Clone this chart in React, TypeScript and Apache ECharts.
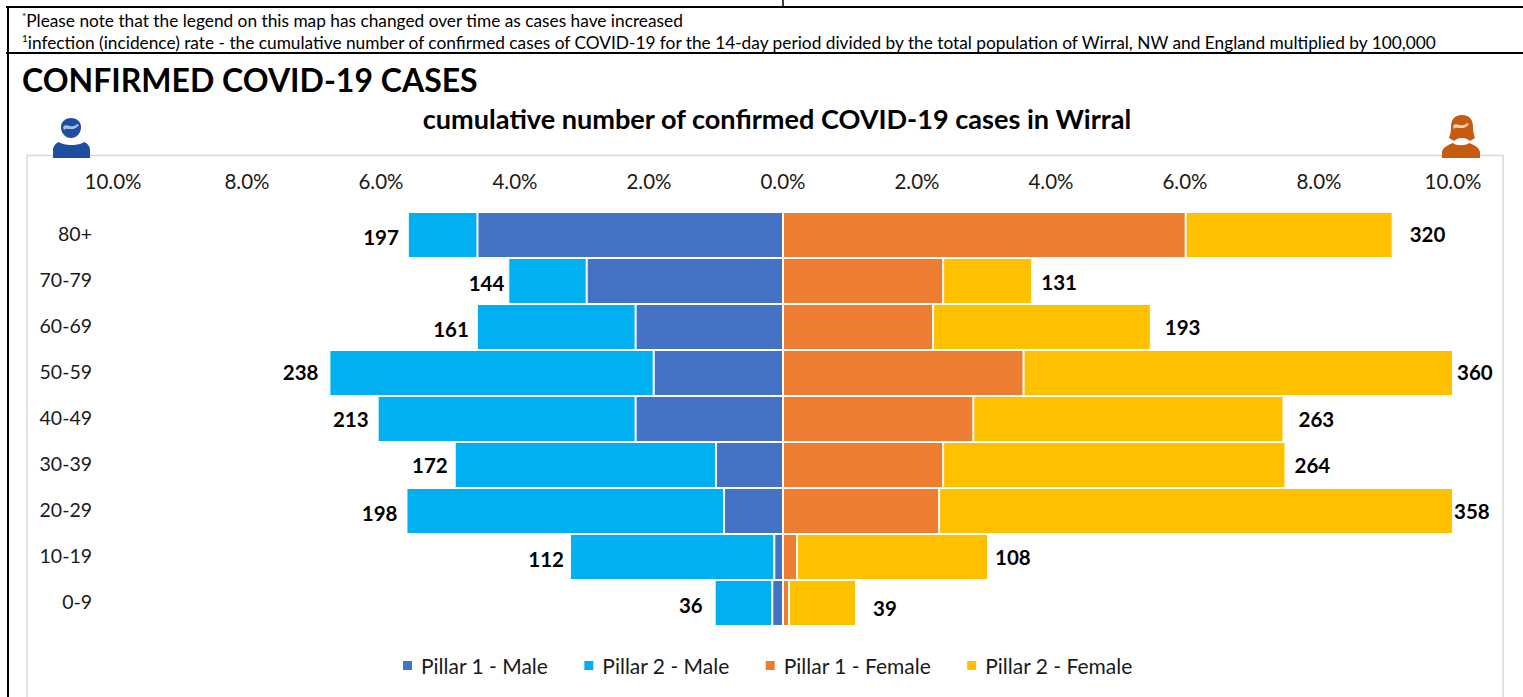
import React, { useEffect, useRef } from "react";
import * as echarts from "echarts";

const ageBands = ["80+", "70-79", "60-69", "50-59", "40-49", "30-39", "20-29", "10-19", "0-9"];
const pillar1Male = [4.56, 2.93, 2.2, 1.93, 2.2, 1.0, 0.88, 0.13, 0.16];
const pillar2Male = [1.04, 1.17, 2.37, 4.84, 3.85, 3.9, 4.74, 3.05, 0.86];
const pillar1Female = [6.01, 2.39, 2.24, 3.59, 2.84, 2.39, 2.33, 0.21, 0.09];
const pillar2Female = [3.09, 1.33, 3.25, 6.41, 4.63, 5.11, 7.67, 2.85, 1.0];
const maleCounts = [197, 144, 161, 238, 213, 172, 198, 112, 36];
const femaleCounts = [320, 131, 193, 360, 263, 264, 358, 108, 39];

// label placement, separate from the data
const maleGap = [9, 4, 8, 11, 9, 7, 9, 6, 12];
const maleDrop = [3, 3, 3, 0, 1, 1, 3, 3, 3];
const femaleGap = [17, 9, 14, 4, 15, 9, 1, 7, 17];
const femaleDrop = [0, 2, 1, 0, 1, 1, 1, 1, 6];

const FONT = "Lato";
const BLACK = "#000";
const LABEL = "#1a1a1a";
const FRAME = "#d9d9d9";

const MALE_BODY = "M6 0C3 1 1 3 0 7L0 16L37 16L37 7C36 3 34 1 31 0C27 4 10 4 6 0Z";
const MALE_HEAD = "M10 0C4 0 0 4 0 9C0 15 4 20 10 20C16 20 20 15 20 9C20 4 16 0 10 0Z";
const FEMALE_BODY = "M11 0C6 2 1 4 0 9L0 15L38 15L38 9C37 4 32 2 27 0C24 3 14 3 11 0Z";
const FEMALE_HEAD =
  "M13 0C5 0 2 5 2 12C2 17 1 20 0 23L5 26C8 24 9 23 13 23C17 23 18 24 21 26L26 23C25 20 24 17 24 12C24 5 21 0 13 0Z";
const SWOOSH = "M0 5C4 0 8 8 14 2L16 3C10 11 4 4 1 8Z";
echarts.graphic.registerShape("maleBody", echarts.graphic.extendPath(MALE_BODY, {}) as any);
echarts.graphic.registerShape("maleHead", echarts.graphic.extendPath(MALE_HEAD, {}) as any);
echarts.graphic.registerShape("femaleBody", echarts.graphic.extendPath(FEMALE_BODY, {}) as any);
echarts.graphic.registerShape("femaleHead", echarts.graphic.extendPath(FEMALE_HEAD, {}) as any);
echarts.graphic.registerShape("swoosh", echarts.graphic.extendPath(SWOOSH, {}) as any);

function hline(x1: number, x2: number, y: number, w: number, c = BLACK) {
  return { type: "line", silent: true, shape: { x1, y1: y, x2, y2: y }, style: { stroke: c, lineWidth: w } };
}
function vline(x: number, y1: number, y2: number, w: number, c = BLACK) {
  return { type: "line", silent: true, shape: { x1: x, y1, x2: x, y2 }, style: { stroke: c, lineWidth: w } };
}
const supRich = {
  s: { fontFamily: FONT, fontSize: 10, verticalAlign: "top", fill: BLACK, lineHeight: 18 },
  n: { fontFamily: FONT, fontSize: 17.3, fill: BLACK, lineHeight: 18 },
};

export default function App() {
  const ref = useRef<HTMLDivElement>(null);
  useEffect(() => {
    const chart = echarts.init(ref.current!, null, { renderer: "svg" });
    const barBase = { type: "bar", stack: "total", barWidth: 46, barGap: "0%" };
    const countLabel = { color: BLACK, fontFamily: FONT, fontWeight: "bold", fontSize: 20.5 };
    chart.setOption({
      animation: false,
      backgroundColor: "#fff",
      textStyle: { fontFamily: FONT },
      grid: { left: 113, right: 70, top: 212, height: 414 },
      xAxis: {
        type: "value",
        position: "top",
        min: -10,
        max: 10,
        interval: 2,
        axisLine: { show: false },
        axisTick: { show: false },
        splitLine: { show: false },
        axisLabel: {
          color: LABEL,
          fontFamily: FONT,
          fontSize: 20.5,
          margin: 21,
          formatter: (v: number) => Math.abs(v).toFixed(1) + "%",
        },
      },
      yAxis: {
        type: "category",
        inverse: true,
        data: ageBands,
        axisLine: { show: false },
        axisTick: { show: false },
        axisLabel: {
          color: LABEL,
          fontFamily: FONT,
          fontSize: 19.5,
          margin: 21,
          align: "right",
          formatter: (v: string) => "{a|" + v + "}",
          rich: { a: { fontFamily: FONT, fontSize: 19.5, color: LABEL, padding: [0, 0, 4, 0] } },
        },
      },
      legend: {
        left: 401,
        top: 655,
        padding: 0,
        itemWidth: 11,
        itemHeight: 11,
        itemGap: 34,
        icon: "rect",
        textStyle: { color: LABEL, fontFamily: FONT, fontSize: 21, padding: [0, 0, 0, 3] },
        data: ["Pillar 1 - Male", "Pillar 2 - Male", "Pillar 1 - Female", "Pillar 2 - Female"],
      },
      series: [
        {
          ...barBase,
          name: "Pillar 1 - Male",
          itemStyle: { color: "#4472C4", borderColor: "#fff", borderWidth: 1 },
          data: pillar1Male.map((v) => -v),
        },
        {
          ...barBase,
          name: "Pillar 2 - Male",
          itemStyle: { color: "#00B0F0", borderColor: "#fff", borderWidth: 1 },
          data: pillar2Male.map((v, i) => ({
            value: -v,
            label: {
              show: true,
              position: "left",
              distance: maleGap[i],
              offset: [0, maleDrop[i] - 1],
              formatter: String(maleCounts[i]),
              ...countLabel,
            },
          })),
        },
        {
          ...barBase,
          name: "Pillar 1 - Female",
          itemStyle: { color: "#ED7D31", borderColor: "#fff", borderWidth: 1 },
          data: pillar1Female,
        },
        {
          ...barBase,
          name: "Pillar 2 - Female",
          itemStyle: { color: "#FFC000", borderColor: "#fff", borderWidth: 1 },
          data: pillar2Female.map((v, i) => ({
            value: v,
            label: {
              show: true,
              position: "right",
              distance: femaleGap[i],
              offset: [0, femaleDrop[i] - 1],
              formatter: String(femaleCounts[i]),
              ...countLabel,
            },
          })),
        },
      ],
      graphic: [
        hline(6, 1523, 7, 2),
        hline(6, 1523, 53, 2),
        vline(8, 6, 697, 2),
        vline(783, 0, 7, 1.5),
        hline(27, 1503, 155.5, 1.5, FRAME),
        vline(27, 155, 697, 1.5, FRAME),
        vline(1503, 155, 697, 1.5, FRAME),
        {
          type: "text",
          x: 22,
          y: 11,
          style: {
            text: "{s|*}{n|Please note that the legend on this map has changed over time as cases have increased}",
            rich: supRich,
          },
        },
        {
          type: "text",
          x: 22,
          y: 33,
          style: {
            text: "{s|1}{n|infection (incidence) rate - the cumulative number of confirmed cases of COVID-19 for the 14-day period divided by the total population of Wirral, NW and England multiplied by 100,000}",
            rich: supRich,
          },
        },
        {
          type: "text",
          x: 22,
          y: 63,
          style: { text: "CONFIRMED COVID-19 CASES", fontFamily: FONT, fontWeight: "bold", fontSize: 32, fill: BLACK },
        },
        {
          type: "text",
          x: 777,
          y: 105,
          style: {
            text: "cumulative number of confirmed COVID-19 cases in Wirral",
            fontFamily: FONT,
            fontWeight: "bold",
            fontSize: 27.1,
            fill: BLACK,
            align: "center",
          },
        },
        { type: "maleHead", x: 61, y: 118, style: { fill: "#1f4e9e" } },
        { type: "swoosh", x: 63, y: 122, style: { fill: "#a9c1e6" } },
        { type: "maleBody", x: 53, y: 142, style: { fill: "#1f4e9e" } },
        { type: "femaleHead", x: 1449, y: 115, style: { fill: "#c55a11" } },
        { type: "swoosh", x: 1453, y: 121, style: { fill: "#f4cfb5" } },
        { type: "femaleBody", x: 1442, y: 143, style: { fill: "#c55a11" } },
      ],
    });
    return () => chart.dispose();
  }, []);
  return (
    <div
      ref={ref}
      style={{ position: "absolute", left: 0, top: 0, width: 1523, height: 697, background: "#fff" }}
    />
  );
}
